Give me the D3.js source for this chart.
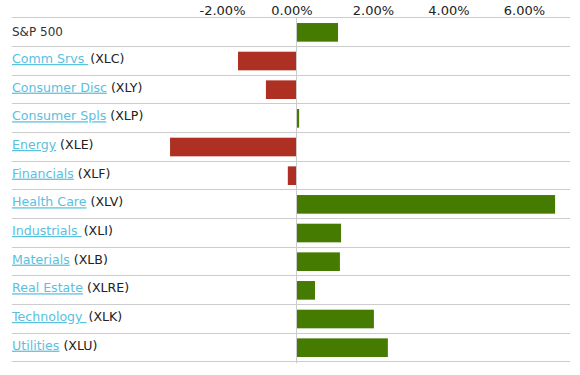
<!DOCTYPE html>
<html>
<head>
<meta charset="utf-8">
<script src="https://cdn.jsdelivr.net/npm/d3@7"></script>
<style>
  html, body { margin: 0; padding: 0; background: #fff; }
  svg { display: block; font-family: "DejaVu Sans", Verdana, sans-serif; }
</style>
</head>
<body>
<svg id="chart" width="580" height="375"></svg>
<script>
const categories = ["S&P 500", "Comm Srvs", "Consumer Disc", "Consumer Spls", "Energy", "Financials",
  "Health Care", "Industrials", "Materials", "Real Estate", "Technology", "Utilities"];
const tickers = ["", "XLC", "XLY", "XLP", "XLE", "XLF", "XLV", "XLI", "XLB", "XLRE", "XLK", "XLU"];
const values = [1.10, -1.55, -0.81, 0.07, -3.35, -0.23, 6.85, 1.18, 1.15, 0.49, 2.05, 2.42];
const tickValues = [-2, 0, 2, 4, 6];
// names whose link underline includes a trailing space
const trailingSpace = ["Comm Srvs", "Industrials", "Technology"];

(function() {
const svg = d3.select("#chart");
const mLeft = 12, mRight = 570, mTop = 17.3, mBottom = 361.3;

const x = d3.scaleLinear().domain([-4, 7]).range([145.5, 560.75]);
const y = d3.scaleBand().domain(categories).range([mTop, mBottom]).padding(0);
const rowH = y.bandwidth();

// horizontal row lines
const lines = categories.map(c => y(c)).concat([mBottom]);
svg.append("g").selectAll("line").data(lines).join("line")
  .attr("x1", mLeft).attr("x2", mRight)
  .attr("y1", d => Math.round(d) + 0.5).attr("y2", d => Math.round(d) + 0.5)
  .attr("stroke", "#cccccc").attr("stroke-width", 1);

// bars
svg.append("g").selectAll("rect").data(values).join("rect")
  .attr("x", d => d >= 0 ? x(0) + 0.5 : x(d))
  .attr("width", d => Math.abs(x(d) - x(0)) - 0.5)
  .attr("y", (d, i) => y(categories[i]) + rowH * 0.2)
  .attr("height", rowH * 0.65)
  .attr("fill", d => d >= 0 ? "#457b00" : "#ae3022");

// zero line
svg.append("line")
  .attr("x1", Math.floor(x(0)) + 0.5).attr("x2", Math.floor(x(0)) + 0.5)
  .attr("y1", mTop).attr("y2", mBottom + 2)
  .attr("stroke", "#cccccc").attr("stroke-width", 1);

// axis tick labels (top)
const fmt = d3.formatLocale({decimal: ".", thousands: ",", grouping: [3], currency: ["$", ""], minus: "-"}).format(".2f");
const axis = d3.axisTop(x).tickValues(tickValues).tickSize(0)
  .tickFormat(d => fmt(d) + "%");
const ag = svg.append("g").attr("transform", "translate(0,15)").call(axis);
ag.select(".domain").remove();
ag.selectAll("text")
  .attr("y", 0).attr("dy", 0)
  .attr("dx", d => d === 0 ? -5 : 1)
  .style("font-family", "'DejaVu Sans', Verdana, sans-serif")
  .style("font-size", "13px").attr("fill", "#222");

// row labels
const lab = svg.append("g").selectAll("text").data(categories).join("text")
  .attr("x", mLeft)
  .attr("y", (d, i) => y(d) + (i === 0 ? 18.7 : 17))
  .style("font-size", (d, i) => i === 0 ? "12px" : "12.6px")
  .style("white-space", "pre")
  .attr("xml:space", "preserve");

lab.each(function(d, i) {
  const t = d3.select(this);
  if (!tickers[i]) {
    t.attr("fill", "#333").text(d);
    return;
  }
  const trail = trailingSpace.includes(d);
  t.append("tspan").text(trail ? d + " " : d)
    .attr("fill", "#5bc0de")
    .style("text-decoration", "underline");
  t.append("tspan").text("(" + tickers[i] + ")")
    .attr("dx", trail ? 2 : 4)
    .attr("fill", "#222");
});
})();
</script>
</body>
</html>
